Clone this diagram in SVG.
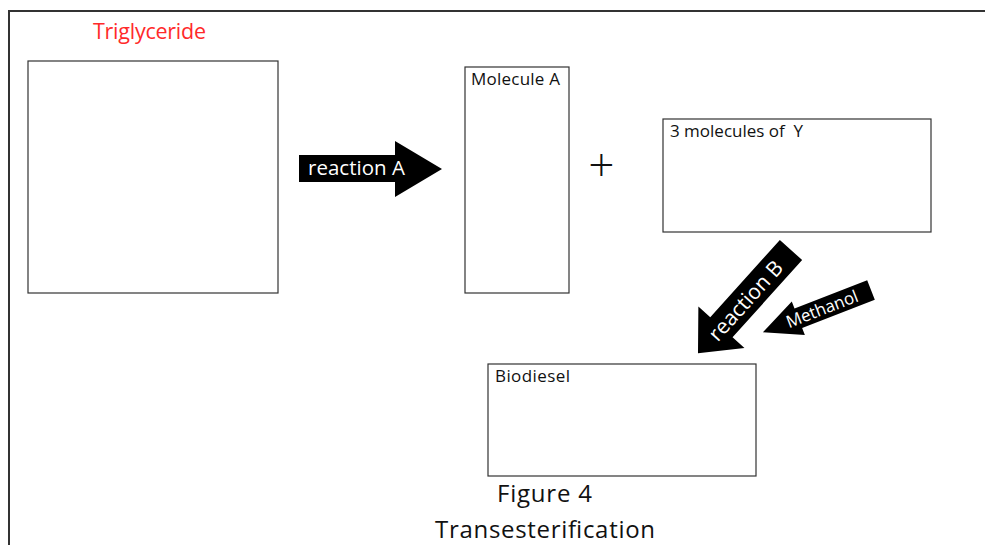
<svg xmlns="http://www.w3.org/2000/svg" width="985" height="545" viewBox="0 0 985 545">
  <style>
    .box { fill: #ffffff; stroke: #333333; stroke-width: 1.2; }
    .lbl { font-family: "Open Sans", "Noto Sans", sans-serif; font-size: 17px; fill: #111111; }
    .arrow { fill: #000000; }
    .atxt { font-family: "Open Sans", "Noto Sans", sans-serif; fill: #ffffff; }
    .cap { font-family: "Open Sans", "Liberation Sans", sans-serif; font-size: 24px; fill: #111111; }
  </style>
  <rect x="0" y="0" width="985" height="545" fill="#ffffff"/>
  <rect x="9" y="11" width="1000" height="600" fill="none" stroke="#333333" stroke-width="2"/>

  <g id="triglyceride">
    <text x="93" y="39" style="font-family: 'Open Sans', 'Noto Sans', sans-serif; font-size: 21.5px; fill: #ff2a2a;" textLength="113">Triglyceride</text>
    <rect class="box" x="28" y="61" width="250" height="232"/>
  </g>

  <g id="molecule-a">
    <rect class="box" x="465" y="67" width="104" height="226"/>
    <text class="lbl" x="471" y="85" textLength="89">Molecule A</text>
  </g>

  <g id="plus">
    <text x="601.5" y="181" text-anchor="middle" style="font-family: 'Open Sans', 'Noto Sans', sans-serif; font-size: 46px; font-weight: 300; fill: #111111;">+</text>
  </g>

  <g id="molecules-y">
    <rect class="box" x="663" y="119" width="268" height="113"/>
    <text class="lbl" x="670" y="137" textLength="133" xml:space="preserve">3 molecules of  Y</text>
  </g>

  <g id="biodiesel">
    <rect class="box" x="488" y="364" width="268" height="112"/>
    <text class="lbl" x="495" y="382" textLength="75">Biodiesel</text>
  </g>

  <g id="connectors">
    <g id="reaction-a">
      <path class="arrow" d="M299,155 L395,155 L395,141 L442,169 L395,197 L395,182 L299,182 Z"/>
      <text class="atxt" x="308" y="175" font-size="20.5" textLength="97">reaction A</text>
    </g>
    <g id="reaction-b">
      <path class="arrow" transform="translate(791,250) rotate(132)" d="M0,-15 L104,-15 L104,-31 L139,0 L104,31 L104,15 L0,15 Z"/>
      <text class="atxt" transform="translate(745.5,300.5) rotate(-48)" x="0" y="7.5" font-size="21" text-anchor="middle">reaction B</text>
    </g>
    <g id="methanol">
      <path class="arrow" transform="translate(871,290) rotate(158.7)" d="M0,-10.5 L78,-10.5 L78,-18 L116,0 L78,18 L78,10.5 L0,10.5 Z"/>
      <text class="atxt" transform="translate(822,309) rotate(-21.3)" x="0" y="6" font-size="17" text-anchor="middle">Methanol</text>
    </g>
  </g>

  <g id="caption">
    <text class="cap" x="497" y="502" textLength="95">Figure 4</text>
    <text class="cap" x="435" y="538" textLength="220">Transesterification</text>
  </g>
</svg>
